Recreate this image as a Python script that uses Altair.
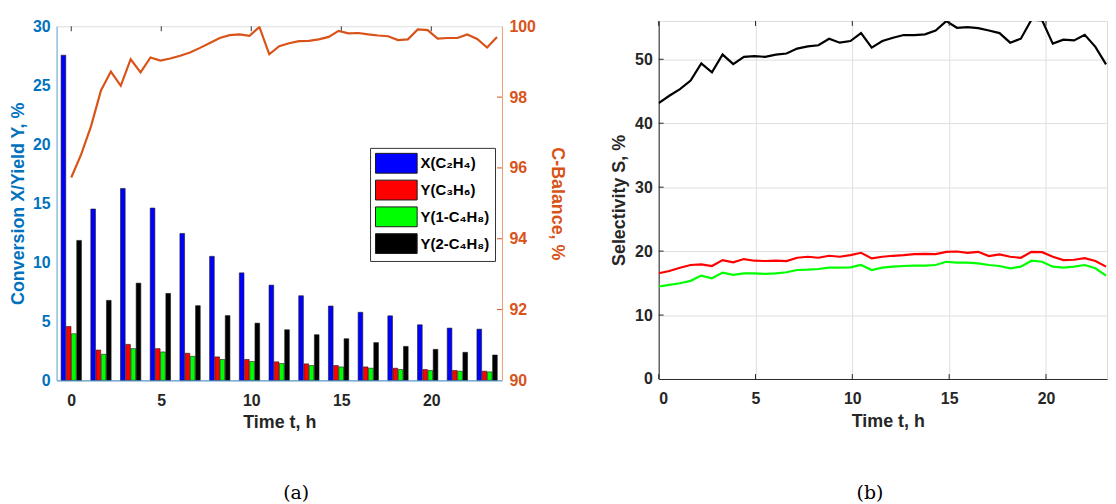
import altair as alt
import pandas as pd

# ---------------- data ----------------
time_h = [0.00, 0.55, 1.10, 1.65, 2.20, 2.75, 3.30, 3.85, 4.40, 4.95,
          5.50, 6.05, 6.60, 7.15, 7.70, 8.25, 8.80, 9.35, 9.90, 10.45,
          11.00, 11.55, 12.10, 12.65, 13.20, 13.75, 14.30, 14.85, 15.40, 15.95,
          16.50, 17.05, 17.60, 18.15, 18.70, 19.25, 19.80, 20.35, 20.90, 21.45,
          22.00, 22.55, 23.10, 23.65]

c_balance = [95.73, 96.38, 97.18, 98.19, 98.72, 98.32, 99.07, 98.70, 99.12, 99.03,
             99.09, 99.17, 99.26, 99.39, 99.53, 99.67, 99.75, 99.77, 99.73, 99.98,
             99.21, 99.44, 99.52, 99.58, 99.59, 99.63, 99.70, 99.87, 99.80, 99.81,
             99.77, 99.74, 99.72, 99.61, 99.63, 99.91, 99.89, 99.65, 99.67, 99.67,
             99.77, 99.64, 99.40, 99.70]

group_time = [0.00, 1.65, 3.30, 4.95, 6.60, 8.25, 9.90, 11.55, 13.20, 14.85,
              16.50, 18.15, 19.80, 21.45, 23.10]
conv_c2h4 = [27.55, 14.52, 16.26, 14.60, 12.45, 10.51, 9.11, 8.07, 7.17, 6.30,
             5.77, 5.47, 4.71, 4.43, 4.34]
yield_c3h6 = [4.57, 2.57, 3.05, 2.69, 2.30, 1.99, 1.77, 1.57, 1.40, 1.26,
              1.14, 1.03, 0.92, 0.84, 0.78]
yield_1c4h8 = [3.95, 2.21, 2.69, 2.41, 2.04, 1.77, 1.60, 1.43, 1.26, 1.14,
               1.03, 0.92, 0.84, 0.78, 0.72]
yield_2c4h8 = [11.86, 6.78, 8.24, 7.37, 6.33, 5.49, 4.85, 4.29, 3.87, 3.53,
               3.20, 2.88, 2.63, 2.38, 2.15]

sel_c3h6 = [16.53, 16.90, 17.41, 17.83, 17.93, 17.67, 18.60, 18.24, 18.76, 18.50,
            18.45, 18.50, 18.45, 18.96, 19.12, 18.96, 19.27, 19.12, 19.38, 19.74,
            18.86, 19.12, 19.27, 19.38, 19.53, 19.58, 19.53, 19.89, 19.94, 19.74,
            19.89, 19.22, 19.48, 19.12, 18.96, 19.89, 19.84, 19.12, 18.60, 18.65,
            18.91, 18.45, 17.57]
sel_1c4h8 = [14.47, 14.73, 14.98, 15.35, 16.17, 15.76, 16.64, 16.28, 16.53, 16.53,
             16.43, 16.53, 16.69, 17.05, 17.10, 17.20, 17.41, 17.41, 17.46, 17.83,
             17.05, 17.41, 17.57, 17.67, 17.72, 17.72, 17.83, 18.34, 18.19, 18.19,
             18.09, 17.83, 17.67, 17.31, 17.57, 18.50, 18.34, 17.57, 17.41, 17.57,
             17.83, 17.31, 16.17]
sel_2c4h8 = [43.15, 44.30, 45.32, 46.67, 49.35, 47.95, 50.74, 49.25, 50.39, 50.49,
             50.39, 50.74, 50.90, 51.67, 52.03, 52.19, 53.22, 52.60, 52.86, 54.10,
             51.83, 52.86, 53.38, 53.79, 53.79, 53.90, 54.50, 55.97, 54.93, 55.03,
             54.88, 54.50, 54.10, 52.60, 53.22, 56.20, 56.10, 52.45, 53.07, 52.96,
             53.84, 51.94, 49.20]

series_names = ["X(C\u2082H\u2084)", "Y(C\u2083H\u2086)", "Y(1-C\u2084H\u2088)", "Y(2-C\u2084H\u2088)"]
bar_colors = ["#0000FF", "#FF0000", "#00FF00", "#000000"]
x_ticks = [0, 5, 10, 15, 20]
left_y_ticks = [0, 5, 10, 15, 20, 25, 30]
right_y_ticks = [90, 92, 94, 96, 98, 100]
orange_inner_ticks = [92, 94, 96, 98]
sel_y_ticks = [0, 10, 20, 30, 40, 50]
sel_names = ["S 2-C4H8", "S C3H6", "S 1-C4H8"]
sel_colors = ["#000000", "#FF0000", "#00FF00"]

# ---------------- tables ----------------
bar_rows = []
for k, (name, vals) in enumerate(zip(series_names, [conv_c2h4, yield_c3h6, yield_1c4h8, yield_2c4h8])):
    for t, v in zip(group_time, vals):
        bar_rows.append({"t": t, "value": v, "series": name, "k": k})
bar_df = pd.DataFrame(bar_rows)
cb_df = pd.DataFrame({"t": time_h, "cb": c_balance})
sel_rows = []
for name, vals in zip(sel_names, [sel_2c4h8, sel_c3h6, sel_1c4h8]):
    for t, v in zip(time_h, vals):
        sel_rows.append({"t": t, "S": v, "species": name})
sel_df = pd.DataFrame(sel_rows)
xt_df = pd.DataFrame({"tick": x_ticks})
ot_df = pd.DataFrame({"tick": orange_inner_ticks})
st_df = pd.DataFrame({"tick": [10, 20, 30, 40, 50]})

FONT = "Liberation Sans"
BLUE = "#0072BD"
ORANGE = "#D95319"
DARK = "#262626"
LW, LH = 449, 357
RW, RH = 452, 361

# ---------------- left panel ----------------
xscale_l = alt.Scale(domain=[-0.539, 23.65], nice=False, zero=False)
xaxis_l = alt.Axis(values=x_ticks, orient="bottom", title="Time t, h", ticks=False, tickSize=0,
                   labelFont=FONT, labelFontSize=16, labelFontWeight="bold", labelColor=DARK,
                   labelPadding=12, titleFont=FONT, titleFontSize=18, titleFontWeight="bold",
                   titleColor=DARK, titlePadding=6, domainColor="#3F8AC9", domainWidth=1,
                   grid=False, zindex=1)

bars = alt.Chart(bar_df).transform_calculate(
    xpos="datum.t + (datum.k - 1.5) * 0.29"
).mark_bar(size=4.7, stroke="#1a1a1a", strokeWidth=0.6, orient="vertical").encode(
    x=alt.X("xpos:Q", scale=xscale_l, axis=xaxis_l),
    y=alt.Y("value:Q", scale=alt.Scale(domain=[0, 30], nice=False),
            axis=alt.Axis(values=left_y_ticks, orient="left", title="Conversion X/Yield Y, %",
                          ticks=False, tickSize=0, labelFont=FONT, labelFontSize=16,
                          labelFontWeight="bold", labelColor=BLUE, labelPadding=6.5,
                          titleFont=FONT, titleFontSize=18, titleFontWeight="bold",
                          titleColor=BLUE, titlePadding=5,
                          domainColor="#6AAEE0", grid=False, zindex=1)),
    color=alt.Color("series:N", scale=alt.Scale(domain=series_names, range=bar_colors),
                    legend=alt.Legend(orient="none", legendX=316, legendY=128, title=None,
                                      symbolType="M-2.1,-1H2.1V1H-2.1Z", symbolSize=400,
                                      symbolStrokeColor="#1a1a1a", symbolStrokeWidth=1,
                                      symbolOpacity=1, symbolOffset=11, labelOffset=14,
                                      labelFont=FONT, labelFontSize=15, labelFontWeight="bold",
                                      labelColor="#000000", strokeColor="#333333",
                                      fillColor="white", padding=5, rowPadding=2)),
)

top_ticks_l = alt.Chart(xt_df).mark_rule(color="#333333", strokeWidth=1).encode(
    x=alt.X("tick:Q", scale=xscale_l, axis=xaxis_l),
    y=alt.value(0), y2=alt.value(5),
)

yscale_cb = alt.Scale(domain=[90, 100], nice=False, zero=False)
cb_axis = alt.Axis(values=right_y_ticks, orient="right", title="C-Balance, %", ticks=False,
                   tickSize=0, labelFont=FONT, labelFontSize=16, labelFontWeight="bold",
                   labelColor=ORANGE, labelPadding=7, titleFont=FONT, titleFontSize=18,
                   titleFontWeight="bold", titleColor=ORANGE, titlePadding=12,
                   domainColor="#EE9C78", grid=False, zindex=1)

cb_line = alt.Chart(cb_df).mark_line(color=ORANGE, strokeWidth=2.2, clip=True).encode(
    x=alt.X("t:Q", scale=xscale_l, axis=xaxis_l),
    y=alt.Y("cb:Q", scale=yscale_cb, axis=cb_axis),
)
cb_ticks = alt.Chart(ot_df).mark_rule(color=ORANGE, strokeWidth=1).encode(
    y=alt.Y("tick:Q", scale=yscale_cb, axis=cb_axis),
    x=alt.value(LW - 5), x2=alt.value(LW),
)

left_main = alt.layer(
    bars, top_ticks_l, alt.layer(cb_line, cb_ticks)
).resolve_scale(y="independent").properties(
    width=LW, height=LH,
    title=alt.TitleParams("(a)", orient="bottom", anchor="middle", frame="group",
                          font="DejaVu Serif", fontSize=19, fontWeight="normal",
                          color="#000000", dx=17, offset=53),
)

# thin invisible spacer that lowers the left panel relative to the right one
spacer = alt.Chart(pd.DataFrame({"s": [0]})).mark_point(opacity=0).properties(
    width=LW, height=1, view=alt.ViewBackground(strokeOpacity=0)
)
left = alt.vconcat(spacer, left_main, spacing=4.4, bounds="flush")

# ---------------- right panel ----------------
xscale_r = alt.Scale(domain=[0, 23.15], nice=False, zero=False)
yscale_r = alt.Scale(domain=[0, 56], nice=False)
xaxis_r = alt.Axis(values=x_ticks, orient="bottom", title="Time t, h", ticks=False, tickSize=0,
                   labelFont=FONT, labelFontSize=16, labelFontWeight="bold", labelColor=DARK,
                   labelPadding=12, titleFont=FONT, titleFontSize=18, titleFontWeight="bold",
                   titleColor=DARK, titlePadding=6, titleX=231, domainColor=DARK,
                   grid=True, gridColor="#DFDFDF", gridWidth=1)
yaxis_r = alt.Axis(values=sel_y_ticks, orient="left", title="Selectivity S, %", ticks=False,
                   tickSize=0, labelFont=FONT, labelFontSize=16, labelFontWeight="bold",
                   labelColor=DARK, labelPadding=6.5, titleFont=FONT, titleFontSize=18,
                   titleFontWeight="bold", titleColor=DARK, titlePadding=6, domainColor=DARK,
                   grid=True, gridColor="#DFDFDF", gridWidth=1)

sel_lines = alt.Chart(sel_df).mark_line(strokeWidth=2.2, clip=True).encode(
    x=alt.X("t:Q", scale=xscale_r, axis=xaxis_r),
    y=alt.Y("S:Q", scale=yscale_r, axis=yaxis_r),
    color=alt.Color("species:N", scale=alt.Scale(domain=sel_names, range=sel_colors), legend=None),
)
bt = alt.Chart(xt_df).mark_rule(color=DARK, strokeWidth=1).encode(
    x=alt.X("tick:Q", scale=xscale_r, axis=xaxis_r), y=alt.value(RH - 5), y2=alt.value(RH))
tt = alt.Chart(xt_df).mark_rule(color=DARK, strokeWidth=1).encode(
    x=alt.X("tick:Q", scale=xscale_r, axis=xaxis_r), y=alt.value(0), y2=alt.value(5))
lt = alt.Chart(st_df).mark_rule(color=DARK, strokeWidth=1).encode(
    y=alt.Y("tick:Q", scale=yscale_r, axis=yaxis_r), x=alt.value(0), x2=alt.value(5))

right = alt.layer(sel_lines, bt, tt, lt).properties(
    width=RW, height=RH,
    title=alt.TitleParams("(b)", orient="bottom", anchor="middle", frame="group",
                          font="DejaVu Serif", fontSize=19, fontWeight="normal",
                          color="#000000", dx=-13, offset=54),
)

chart = alt.hconcat(left, right, spacing=44).resolve_scale(color="independent").properties(
    padding={"left": 1, "top": 7, "right": 0, "bottom": 0},
    background="white",
).configure_view(stroke="#333333", strokeWidth=1).configure(font=FONT)

chart.save("out.html", embed_options={"renderer": "svg", "actions": False})
